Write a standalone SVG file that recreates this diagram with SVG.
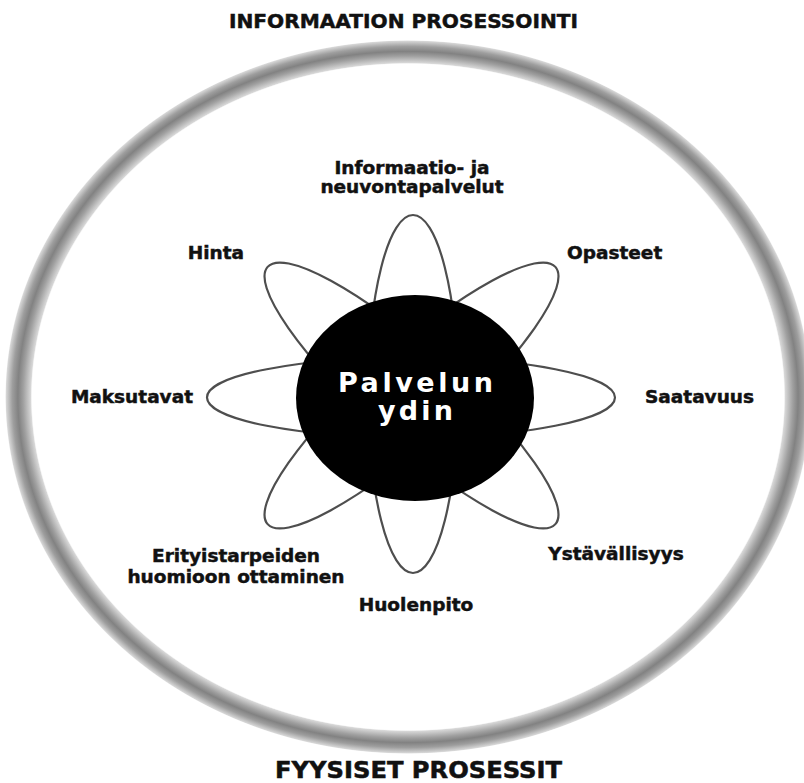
<svg xmlns="http://www.w3.org/2000/svg" width="804" height="783" viewBox="0 0 804 783">
<defs>
<radialGradient id="ringGrad" cx="50%" cy="50%" r="50%">
<stop offset="0" stop-color="#ffffff" stop-opacity="0"/>
<stop offset="0.932" stop-color="#ffffff" stop-opacity="0"/>
<stop offset="0.936" stop-color="#d8d8d8"/>
<stop offset="0.955" stop-color="#a0a0a0"/>
<stop offset="0.968" stop-color="#828282"/>
<stop offset="0.982" stop-color="#9e9e9e"/>
<stop offset="0.997" stop-color="#d6d6d6"/>
<stop offset="1" stop-color="#e6e6e6" stop-opacity="0"/>
</radialGradient>
</defs>
<style>
.lbl{font-family:"DejaVu Sans","Liberation Sans",sans-serif;font-weight:bold;fill:#111;stroke:#111;stroke-width:0.5;font-size:18.5px;}
.ttl{font-family:"DejaVu Sans","Liberation Sans",sans-serif;font-weight:bold;fill:#111;stroke:#111;stroke-width:0.5;}
.core{font-family:"DejaVu Sans","Liberation Sans",sans-serif;font-weight:bold;fill:#fff;font-size:27px;}
.petal{fill:none;stroke:#4e4e4e;stroke-width:2.2;}
</style>
<rect width="804" height="783" fill="#fff"/>
<g id="ring">
<ellipse cx="408" cy="397" rx="403" ry="357" fill="url(#ringGrad)"/>
</g>
<g id="title-top">
<text class="ttl" x="229" y="28" font-size="20" textLength="349" lengthAdjust="spacingAndGlyphs">INFORMAATION PROSESSOINTI</text>
</g>
<g id="title-bottom">
<text class="ttl" x="275" y="778" font-size="22.5" textLength="287" lengthAdjust="spacingAndGlyphs">FYYSISET PROSESSIT</text>
</g>
<g id="petals">
<ellipse class="petal" cx="413" cy="394" rx="45" ry="179"/>
<ellipse class="petal" cx="411" cy="397.5" rx="204" ry="40"/>
<ellipse class="petal" cx="411.5" cy="395.5" rx="193" ry="45" transform="rotate(41.8 411.5 395.5)"/>
<ellipse class="petal" cx="411.5" cy="395.5" rx="193" ry="45" transform="rotate(-41.8 411.5 395.5)"/>
</g>
<g id="core">
<ellipse cx="415" cy="398" rx="119" ry="103" fill="#000"/>
<text class="core" x="338" y="392" textLength="155" lengthAdjust="spacing">Palvelun</text>
<text class="core" x="378" y="420" textLength="75" lengthAdjust="spacing">ydin</text>
</g>
<g id="node-informaatio">
<text class="lbl" x="412" y="174" text-anchor="middle">Informaatio- ja</text>
<text class="lbl" x="412" y="193" text-anchor="middle">neuvontapalvelut</text>
</g>
<g id="node-hinta">
<text class="lbl" x="244" y="259" text-anchor="end">Hinta</text>
</g>
<g id="node-opasteet">
<text class="lbl" x="567" y="259">Opasteet</text>
</g>
<g id="node-maksutavat">
<text class="lbl" x="193" y="403" text-anchor="end">Maksutavat</text>
</g>
<g id="node-saatavuus">
<text class="lbl" x="645" y="403">Saatavuus</text>
</g>
<g id="node-erityistarpeiden">
<text class="lbl" x="236" y="562" text-anchor="middle">Erityistarpeiden</text>
<text class="lbl" x="236" y="583" text-anchor="middle">huomioon ottaminen</text>
</g>
<g id="node-ystavallisyys">
<text class="lbl" x="616" y="560" text-anchor="middle">Ystävällisyys</text>
</g>
<g id="node-huolenpito">
<text class="lbl" x="416" y="611" text-anchor="middle">Huolenpito</text>
</g>
</svg>
